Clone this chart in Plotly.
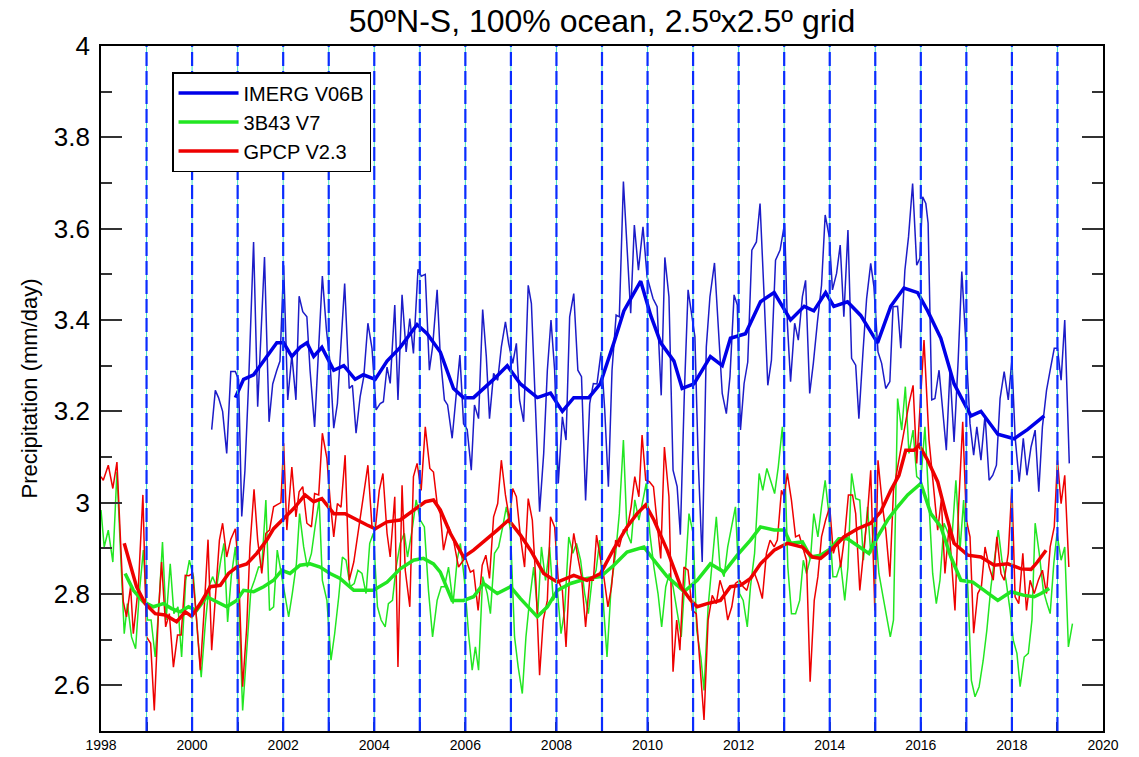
import plotly.graph_objects as go

# ---------------- data (decimal years, mm/day) ----------------
imerg_t = [2000.43,2000.51,2000.58,2000.67,2000.76,2000.85,2000.95,2001.02,2001.09,2001.16,2001.24,2001.35,2001.44,2001.49,2001.59,2001.69,2001.77,2001.86,2001.93,
           2002.01,2002.10,2002.19,2002.28,2002.35,2002.43,2002.52,2002.59,2002.69,2002.78,2002.86,2002.95,2003.03,2003.11,2003.19,2003.35,2003.45,2003.52,2003.60,2003.69,2003.77,2003.86,2003.95,
           2004.04,2004.13,2004.20,2004.28,2004.35,2004.45,2004.52,2004.61,2004.70,2004.78,2004.86,2004.96,2005.03,2005.12,2005.21,2005.28,2005.38,2005.45,2005.54,2005.61,2005.71,2005.80,2005.88,2005.96,
           2006.04,2006.13,2006.20,2006.29,2006.38,2006.46,2006.53,2006.62,2006.71,2006.79,2006.88,2006.95,2007.04,2007.12,2007.19,2007.28,2007.38,2007.45,2007.54,2007.63,2007.72,2007.80,2007.88,2007.96,
           2008.04,2008.13,2008.21,2008.29,2008.38,2008.47,2008.55,2008.64,2008.73,2008.81,2008.89,2008.98,2009.06,2009.14,2009.22,2009.31,2009.38,2009.47,2009.63,2009.71,2009.80,2009.90,2009.99,
           2010.12,2010.21,2010.30,2010.38,2010.47,2010.56,2010.65,2010.72,2010.81,2010.89,2010.97,2011.04,2011.11,2011.20,2011.29,2011.37,2011.47,2011.57,2011.64,2011.73,2011.81,2011.90,2011.97,
           2012.04,2012.12,2012.20,2012.29,2012.39,2012.47,2012.56,2012.64,2012.72,2012.81,2012.91,2013.01,2013.07,2013.14,2013.23,2013.31,2013.40,2013.47,2013.56,2013.64,2013.73,2013.82,2013.90,2013.99,
           2014.06,2014.15,2014.23,2014.31,2014.40,2014.48,2014.57,2014.64,2014.73,2014.81,2014.90,2014.97,2015.06,2015.14,2015.23,2015.32,2015.39,2015.49,2015.56,2015.65,2015.73,2015.82,2015.91,2015.98,
           2016.04,2016.11,2016.16,2016.24,2016.31,2016.40,2016.48,2016.56,2016.64,2016.73,2016.82,2016.90,2016.99,2017.08,2017.16,2017.23,2017.32,2017.41,2017.50,2017.58,2017.66,2017.74,2017.83,2017.92,
           2018.00,2018.07,2018.16,2018.25,2018.33,2018.42,2018.51,2018.59,2018.67,2018.76,2018.84,2018.93,2019.00,2019.08,2019.16,2019.26]
imerg_v = [3.16,3.246,3.23,3.20,3.108,3.287,3.287,3.27,2.97,3.07,3.26,3.571,3.21,3.31,3.538,3.177,3.26,3.29,3.31,
           3.52,3.225,3.323,3.225,3.452,3.418,3.407,3.29,3.166,3.334,3.496,3.378,3.305,3.163,3.217,3.48,3.25,3.257,3.152,3.232,3.276,3.393,3.338,
           3.203,3.217,3.221,3.297,3.261,3.433,3.225,3.455,3.33,3.403,3.327,3.511,3.496,3.50,3.29,3.341,3.466,3.32,3.225,3.214,3.141,3.239,3.323,3.173,
           3.16,3.071,3.214,3.184,3.423,3.32,3.184,3.283,3.268,3.341,3.396,3.349,3.305,3.349,3.225,3.177,3.476,3.436,3.217,2.98,3.108,3.29,3.40,3.29,
           3.042,3.188,3.137,3.407,3.458,3.29,3.276,3.005,3.217,3.261,3.26,3.33,3.203,3.035,3.29,3.411,3.407,3.703,3.415,3.608,3.509,3.604,3.495,
           3.447,3.429,3.235,3.537,3.451,3.071,3.035,2.93,3.246,3.466,3.414,3.363,3.10,2.87,3.341,3.451,3.525,3.349,3.239,3.195,3.276,3.455,3.433,
           3.159,3.261,3.308,3.553,3.571,3.655,3.451,3.257,3.312,3.531,3.553,3.612,3.393,3.265,3.393,3.356,3.451,3.487,3.239,3.305,3.396,3.476,3.63,3.582,
           3.466,3.502,3.564,3.407,3.597,3.316,3.301,3.184,3.33,3.447,3.524,3.473,3.33,3.305,3.25,3.265,3.429,3.43,3.338,3.509,3.582,3.699,3.52,3.535,
           3.67,3.655,3.612,3.225,3.228,3.29,3.203,3.115,3.29,3.133,3.312,3.506,3.349,3.173,3.104,3.166,3.093,3.192,3.049,3.06,3.082,3.228,3.287,3.225,
           3.312,3.144,3.046,3.141,3.06,3.122,3.159,3.024,3.166,3.246,3.29,3.338,3.338,3.268,3.40,3.086]

trmm_t = [1998.00,1998.07,1998.16,1998.26,1998.35,1998.42,1998.51,1998.58,1998.67,1998.76,1998.84,1998.93,1999.02,1999.10,1999.19,1999.27,1999.35,1999.43,1999.52,1999.60,1999.69,1999.77,1999.86,1999.94,
          2000.03,2000.12,2000.20,2000.29,2000.37,2000.45,2000.54,2000.63,2000.70,2000.78,2000.86,2000.95,2001.02,2001.11,2001.20,2001.29,2001.37,2001.46,2001.53,2001.62,2001.70,2001.79,2001.87,2001.96,
          2002.04,2002.12,2002.20,2002.29,2002.36,2002.45,2002.53,2002.62,2002.70,2002.79,2002.86,2002.96,2003.05,2003.13,2003.22,2003.30,2003.38,2003.47,2003.56,2003.64,2003.73,2003.82,2003.90,2003.98,
          2004.07,2004.15,2004.24,2004.31,2004.40,2004.48,2004.57,2004.66,2004.73,2004.83,2004.92,2005.01,2005.10,2005.19,2005.28,2005.38,2005.47,2005.54,2005.63,2005.73,2005.82,2005.89,2005.98,
          2006.07,2006.15,2006.22,2006.29,2006.38,2006.48,2006.55,2006.64,2006.73,2006.82,2006.90,2006.99,2007.08,2007.16,2007.25,2007.33,2007.41,2007.50,2007.59,2007.67,2007.76,2007.85,2007.93,
          2008.02,2008.10,2008.18,2008.27,2008.36,2008.44,2008.53,2008.62,2008.70,2008.78,2008.87,2008.95,2009.04,2009.11,2009.20,2009.30,2009.38,2009.47,2009.55,2009.64,2009.72,2009.81,2009.90,2009.97,
          2010.05,2010.14,2010.23,2010.31,2010.40,2010.48,2010.56,2010.65,2010.74,2010.82,2010.91,2011.00,2011.08,2011.17,2011.24,2011.33,2011.42,2011.51,2011.59,2011.68,2011.76,2011.85,2011.93,
          2012.02,2012.10,2012.19,2012.26,2012.35,2012.45,2012.53,2012.62,2012.70,2012.79,2012.87,2012.96,2013.03,2013.08,2013.16,2013.25,2013.34,2013.42,2013.49,2013.58,2013.65,2013.74,2013.82,2013.90,2013.98,
          2014.07,2014.15,2014.24,2014.33,2014.40,2014.48,2014.57,2014.66,2014.74,2014.83,2014.90,2014.99,2015.08,2015.17,2015.25,2015.33,2015.40,2015.49,2015.58,2015.66,2015.74,2015.83,2015.91,2016.00,
          2016.09,2016.17,2016.26,2016.34,2016.42,2016.51,2016.60,2016.68,2016.77,2016.86,2016.94,2017.03,2017.11,2017.19,2017.28,2017.37,2017.45,2017.54,2017.61,2017.70,2017.78,2017.87,2017.96,
          2018.03,2018.11,2018.18,2018.27,2018.36,2018.44,2018.51,2018.60,2018.69,2018.77,2018.84,2018.92,2018.99,2019.08,2019.16,2019.24,2019.33]
trmm_v = [2.984,2.903,2.94,2.87,3.067,2.896,2.713,2.779,2.706,2.68,2.801,2.896,2.743,2.743,2.662,2.772,2.914,2.743,2.866,2.757,2.772,2.662,2.83,2.874,
          2.838,2.713,2.618,2.735,2.816,2.838,2.816,2.874,2.911,2.739,2.838,2.903,2.794,2.545,2.67,2.808,2.83,2.859,2.859,3.006,2.764,2.772,2.896,2.845,
          2.801,2.75,2.801,2.866,2.976,2.903,2.859,2.889,2.947,3.006,2.83,2.786,2.655,2.713,2.794,2.881,2.874,2.816,2.823,2.852,2.845,2.801,2.911,2.933,
          2.772,2.743,2.728,2.779,2.786,2.859,2.911,2.933,2.881,2.94,3.006,2.962,2.947,2.808,2.706,2.786,2.816,2.816,2.859,2.779,2.874,2.911,2.83,
          2.713,2.633,2.684,2.633,2.838,2.801,2.757,2.889,2.903,2.947,2.991,2.94,2.706,2.64,2.582,2.706,2.786,2.859,2.757,2.903,2.83,2.903,2.786,
          2.808,2.713,2.764,2.925,2.889,2.911,2.874,2.801,2.757,2.83,2.852,2.918,2.764,2.662,2.816,2.889,2.976,3.137,2.933,2.911,3.006,2.962,3.006,3.042,
          2.933,2.859,2.801,2.728,2.816,2.845,2.816,2.757,2.706,2.83,2.976,2.933,2.721,2.662,2.589,2.772,2.874,2.969,2.859,2.838,2.903,2.947,2.991,
          2.801,2.786,2.728,2.816,2.889,3.064,3.027,3.075,3.049,3.02,3.078,3.166,3.027,2.859,2.757,2.757,2.786,2.874,2.845,2.881,2.976,2.925,2.991,3.049,2.976,
          2.838,2.838,2.867,2.786,2.859,3.064,3.009,3.006,2.874,2.991,2.889,2.962,2.845,2.794,2.75,2.706,2.743,3.228,3.159,3.254,3.108,3.159,3.057,3.049,
          3.166,3.027,2.845,2.779,2.83,2.955,2.933,2.918,3.049,2.896,3.006,2.816,2.611,2.575,2.597,2.655,2.721,2.816,2.874,2.94,2.874,2.83,2.764,
          2.699,2.67,2.597,2.662,2.67,2.743,2.955,2.889,2.808,2.779,2.757,2.867,2.933,2.874,2.903,2.684,2.735]

gpcp_t = [1998.00,1998.05,1998.16,1998.26,1998.35,1998.49,1998.56,1998.65,1998.71,1998.82,1998.92,1999.00,1999.09,1999.17,1999.26,1999.33,1999.42,1999.50,1999.59,1999.68,1999.76,1999.85,1999.93,
          2000.01,2000.10,2000.18,2000.26,2000.35,2000.43,2000.52,2000.60,2000.67,2000.76,2000.85,2000.95,2001.02,2001.11,2001.20,2001.27,2001.36,2001.44,2001.53,2001.62,2001.70,2001.79,2001.86,2001.95,
          2002.01,2002.08,2002.19,2002.28,2002.35,2002.43,2002.52,2002.62,2002.69,2002.78,2002.86,2002.96,2003.03,2003.11,2003.19,2003.27,2003.36,2003.45,2003.55,2003.63,2003.71,2003.79,2003.86,2003.95,
          2004.02,2004.11,2004.19,2004.28,2004.35,2004.45,2004.52,2004.61,2004.68,2004.78,2004.86,2004.94,2005.03,2005.12,2005.22,2005.30,2005.39,2005.45,2005.52,2005.63,2005.74,2005.85,
          2006.00,2006.11,2006.18,2006.28,2006.37,2006.45,2006.53,2006.62,2006.71,2006.79,2006.88,2006.97,2007.04,2007.12,2007.21,2007.30,2007.38,2007.47,2007.55,2007.63,2007.71,2007.80,2007.87,2007.96,
          2008.04,2008.13,2008.21,2008.29,2008.38,2008.47,2008.55,2008.64,2008.73,2008.81,2008.88,2008.97,2009.04,2009.13,2009.21,2009.30,2009.38,2009.47,2009.55,2009.64,2009.72,2009.81,2009.88,2009.96,
          2010.04,2010.13,2010.21,2010.29,2010.37,2010.47,2010.56,2010.64,2010.71,2010.80,2010.89,2010.98,2011.07,2011.15,2011.24,2011.33,2011.42,2011.51,2011.59,2011.68,2011.76,2011.85,2011.93,
          2012.02,2012.10,2012.18,2012.26,2012.35,2012.43,2012.52,2012.61,2012.69,2012.78,2012.85,2012.94,2013.00,2013.07,2013.16,2013.25,2013.33,2013.40,2013.49,2013.57,2013.66,2013.74,2013.82,2013.91,
          2014.00,2014.08,2014.17,2014.24,2014.33,2014.41,2014.50,2014.57,2014.66,2014.74,2014.83,2014.90,2014.99,2015.06,2015.16,2015.23,2015.32,2015.40,2015.49,2015.58,2015.65,2015.74,2015.83,2015.91,
          2016.07,2016.18,2016.37,2016.45,2016.53,2016.62,2016.75,2016.83,2016.92,2017.00,2017.08,2017.16,2017.25,2017.33,2017.41,2017.50,2017.59,2017.67,2017.76,2017.83,2017.92,
          2018.00,2018.07,2018.15,2018.24,2018.32,2018.40,2018.49,2018.58,2018.67,2018.76,2018.84,2018.93,2019.00,2019.08,2019.16,2019.25]
gpcp_v = [3.057,3.049,3.082,3.031,3.089,2.783,2.75,2.816,2.713,2.816,3.017,2.706,2.692,2.545,2.757,2.87,2.728,2.757,2.64,2.71,2.71,2.841,2.84,
          2.845,2.743,2.633,2.757,2.919,2.677,2.816,2.918,2.955,2.881,2.92,2.943,2.852,2.597,2.728,2.903,3.029,2.918,2.845,2.933,2.94,2.991,2.995,3.0,
          3.13,2.94,3.078,2.969,3.024,3.035,2.955,2.947,3.02,3.017,3.152,3.097,3.006,2.925,2.998,2.99,3.104,2.83,2.87,2.925,2.987,3.038,3.082,2.947,
          2.94,3.027,3.064,2.933,2.881,3.013,2.64,3.038,2.852,2.772,3.057,3.086,3.027,3.166,3.075,3.067,2.99,2.976,2.896,2.947,2.918,2.859,
          2.88,2.848,2.852,2.764,2.863,2.885,2.834,2.969,2.998,3.093,3.017,2.962,3.031,3.013,2.925,2.859,3.009,2.962,2.823,2.622,2.743,2.786,2.969,2.947,
          2.83,2.808,2.684,2.848,2.933,2.881,2.838,2.728,2.83,2.83,2.929,2.874,2.838,2.772,2.816,2.918,2.903,2.94,2.94,2.991,3.057,3.013,3.148,3.049,
          3.046,3.035,2.955,2.878,3.122,3.013,2.63,2.743,2.677,2.859,2.852,2.764,2.757,2.655,2.524,2.743,2.797,2.779,2.83,2.801,2.743,2.772,2.823,
          2.83,2.816,2.808,2.838,2.845,2.823,2.79,2.889,2.918,2.903,2.918,3.027,3.013,3.064,3.005,2.925,2.929,2.903,2.874,2.608,2.786,2.838,2.925,2.962,
          2.991,2.889,2.918,2.859,2.929,3.017,3.017,2.976,2.808,2.889,2.976,3.071,2.764,3.093,2.991,2.94,2.838,3.027,3.078,3.122,3.166,3.217,3.257,3.086,
          3.356,3.137,2.94,3.006,2.845,2.947,2.764,2.991,3.177,2.962,2.925,2.714,2.801,2.816,2.903,2.859,2.83,2.925,2.845,2.83,2.889,
          3.035,2.794,2.779,2.889,2.764,2.83,2.801,2.83,2.852,2.801,2.903,2.947,3.093,2.998,3.06,2.859]

# 12-month running means
imerg_sm_t = [2000.95,2001.13,2001.35,2001.57,2001.71,2001.86,2002.01,2002.19,2002.37,2002.52,2002.67,2002.85,2003.11,2003.33,2003.58,2003.76,2004.02,2004.28,2004.57,2004.94,
              2005.16,2005.45,2005.74,2005.96,2006.18,2006.40,2006.62,2006.92,2007.21,2007.58,2007.87,2008.13,2008.38,2008.71,2008.96,2009.26,2009.48,2009.85,
              2010.07,2010.29,2010.58,2010.76,2011.02,2011.38,2011.64,2011.82,2012.15,2012.48,2012.78,2013.14,2013.44,2013.65,2013.91,2014.09,2014.39,2014.68,
              2015.05,2015.34,2015.63,2015.93,2016.15,2016.44,2016.73,2017.10,2017.32,2017.69,2018.05,2018.34,2018.71]
imerg_sm_v = [3.23,3.27,3.28,3.31,3.33,3.35,3.35,3.32,3.34,3.35,3.32,3.34,3.29,3.30,3.27,3.28,3.27,3.31,3.34,3.39,
              3.37,3.33,3.25,3.23,3.23,3.25,3.27,3.30,3.26,3.23,3.24,3.20,3.23,3.23,3.26,3.35,3.42,3.485,
              3.41,3.35,3.31,3.25,3.26,3.32,3.30,3.36,3.37,3.44,3.46,3.40,3.43,3.42,3.46,3.43,3.44,3.41,
              3.35,3.43,3.47,3.46,3.42,3.36,3.26,3.19,3.20,3.15,3.14,3.16,3.19]

trmm_sm_t = [1998.53,1998.71,1998.93,1999.15,1999.37,1999.55,1999.74,1999.92,2000.10,2000.32,2000.54,2000.76,2000.98,2001.13,2001.35,2001.57,2001.79,2001.97,
             2002.15,2002.37,2002.59,2002.81,2003.03,2003.25,2003.55,2003.76,2003.98,2004.28,2004.57,2004.86,2005.08,2005.30,2005.45,2005.71,2005.96,
             2006.18,2006.40,2006.70,2006.99,2007.21,2007.58,2007.80,2008.02,2008.31,2008.67,2008.97,2009.26,2009.55,2009.92,2010.14,2010.43,2010.65,2010.80,
             2011.09,2011.38,2011.68,2011.97,2012.26,2012.48,2012.78,2013.00,2013.14,2013.40,2013.58,2013.80,2014.02,2014.20,2014.39,2014.61,2014.86,
             2015.05,2015.27,2015.49,2015.71,2016.00,2016.22,2016.44,2016.66,2016.88,2017.14,2017.39,2017.69,2017.98,2018.27,2018.49,2018.64,2018.82]
trmm_sm_v = [2.845,2.808,2.783,2.772,2.779,2.768,2.761,2.772,2.764,2.794,2.783,2.772,2.786,2.808,2.805,2.816,2.83,2.852,
             2.845,2.863,2.866,2.859,2.845,2.834,2.808,2.808,2.808,2.826,2.855,2.874,2.878,2.866,2.848,2.786,2.786,
             2.794,2.823,2.801,2.816,2.79,2.75,2.772,2.808,2.823,2.834,2.838,2.863,2.892,2.903,2.874,2.838,2.819,2.805,
             2.83,2.866,2.848,2.885,2.918,2.947,2.94,2.94,2.911,2.914,2.881,2.885,2.899,2.921,2.921,2.907,2.889,
             2.925,2.962,2.991,3.017,3.042,2.976,2.947,2.881,2.83,2.826,2.808,2.786,2.805,2.797,2.794,2.801,2.812]

gpcp_sm_t = [1998.51,1998.64,1998.78,1998.97,1999.19,1999.41,1999.66,1999.85,1999.99,2000.18,2000.40,2000.62,2000.80,2000.98,2001.20,2001.42,2001.64,2001.79,2001.97,
             2002.23,2002.48,2002.67,2002.85,2003.11,2003.36,2003.62,2003.84,2004.02,2004.28,2004.57,2004.86,2005.12,2005.30,2005.45,2005.67,2005.96,
             2006.18,2006.40,2006.70,2006.95,2007.21,2007.43,2007.72,2008.02,2008.38,2008.67,2008.97,2009.26,2009.55,2009.77,2009.96,2010.14,2010.43,2010.73,2010.95,
             2011.09,2011.31,2011.60,2011.82,2012.04,2012.26,2012.48,2012.78,2013.07,2013.40,2013.62,2013.80,2014.06,2014.31,2014.61,2014.90,
             2015.12,2015.34,2015.52,2015.67,2015.85,2015.96,2016.15,2016.37,2016.55,2016.73,2017.03,2017.32,2017.61,2017.91,2018.20,2018.42,2018.56,2018.75]
gpcp_sm_v = [2.911,2.866,2.816,2.779,2.757,2.754,2.739,2.761,2.751,2.779,2.816,2.819,2.845,2.859,2.866,2.889,2.918,2.943,2.962,
             2.987,3.017,3.002,3.009,2.976,2.976,2.962,2.951,2.943,2.958,2.962,2.984,3.002,3.006,2.984,2.933,2.881,
             2.896,2.914,2.94,2.962,2.929,2.896,2.845,2.826,2.841,2.83,2.845,2.899,2.947,2.976,2.995,2.962,2.896,2.816,2.786,
             2.772,2.779,2.786,2.816,2.819,2.834,2.866,2.896,2.911,2.903,2.881,2.878,2.899,2.925,2.943,2.955,
             2.98,3.027,3.06,3.115,3.115,3.126,3.093,3.046,2.976,2.911,2.885,2.881,2.863,2.866,2.855,2.854,2.87,2.896]

year_marks = list(range(1999, 2020))

series_names = ["IMERG V06B", "3B43 V7", "GPCP V2.3"]

# ---------------- figure ----------------
BLUE_THIN = "#1c1cc8"
BLUE = "#0000e8"
GREEN = "#22e622"
RED = "#ee0000"

fig = go.Figure()

thin_style = dict(mode="lines", showlegend=False, hoverinfo="skip")
fig.add_trace(go.Scatter(x=trmm_t, y=trmm_v, line=dict(color=GREEN, width=1.5), **thin_style))
fig.add_trace(go.Scatter(x=gpcp_t, y=gpcp_v, line=dict(color=RED, width=1.5), **thin_style))
fig.add_trace(go.Scatter(x=imerg_t, y=imerg_v, line=dict(color=BLUE_THIN, width=1.5), **thin_style))

fig.add_trace(go.Scatter(x=imerg_sm_t, y=imerg_sm_v, mode="lines", name=series_names[0],
                         line=dict(color=BLUE, width=3.5)))
fig.add_trace(go.Scatter(x=trmm_sm_t, y=trmm_sm_v, mode="lines", name=series_names[1],
                         line=dict(color=GREEN, width=3.5)))
fig.add_trace(go.Scatter(x=gpcp_sm_t, y=gpcp_sm_v, mode="lines", name=series_names[2],
                         line=dict(color=RED, width=3.5)))

# yearly dashed markers (thin aquamarine line under blue dashes)
for yr in year_marks:
    fig.add_vline(x=yr, line=dict(color="#3ee0c0", width=1), layer="above")
    fig.add_vline(x=yr, line=dict(color="#0a2cff", width=2.2, dash="14px,5px"), layer="above")

FONT = "Liberation Sans, Arial, Helvetica, sans-serif"

fig.update_layout(
    width=1139, height=757,
    margin=dict(l=101, r=36, t=46, b=26),
    paper_bgcolor="white", plot_bgcolor="white",
    font=dict(family=FONT, color="black"),
    title=dict(text="50ºN-S, 100% ocean, 2.5ºx2.5º grid", x=0.5, xref="paper", xanchor="center",
               y=0.972, yref="container", yanchor="middle", font=dict(size=32, color="black")),
    legend=dict(x=0.0709, y=0.962, xanchor="left", yanchor="top",
                bgcolor="white", bordercolor="black", borderwidth=1.5,
                font=dict(size=20, color="black"), tracegroupgap=0, itemwidth=60,
                traceorder="normal"),
    showlegend=True,
)

fig.update_xaxes(range=[1998, 2020], tickmode="linear", tick0=1998, dtick=2,
                 ticks="inside", ticklen=9, tickwidth=1.5, tickcolor="#333",
                 minor=dict(dtick=1, tick0=1998, ticks="inside", ticklen=9, tickwidth=1.5, tickcolor="#333"),
                 showline=True, linecolor="black", linewidth=1.8, mirror=True,
                 showgrid=False, zeroline=False, tickfont=dict(size=14, color="black"),
                 tickformat="d", automargin=False)
fig.update_yaxes(range=[2.5, 4.0], tickmode="linear", tick0=2.6, dtick=0.2,
                 ticks="inside", ticklen=21, tickwidth=1.5, tickcolor="#333",
                 minor=dict(dtick=0.1, tick0=2.5, ticks="inside", ticklen=11, tickwidth=1.5, tickcolor="#333"),
                 showline=True, linecolor="black", linewidth=1.8, mirror="ticks",
                 showgrid=False, zeroline=False, tickfont=dict(size=26, color="black"),
                 ticklabelstandoff=4, automargin=False,
                 title=dict(text="Precipitation (mm/day)", font=dict(size=22, color="black"), standoff=10))

fig.write_html("out.html", config={"displayModeBar": False},
               post_script="document.body.style.margin='0';document.body.style.padding='0';")
